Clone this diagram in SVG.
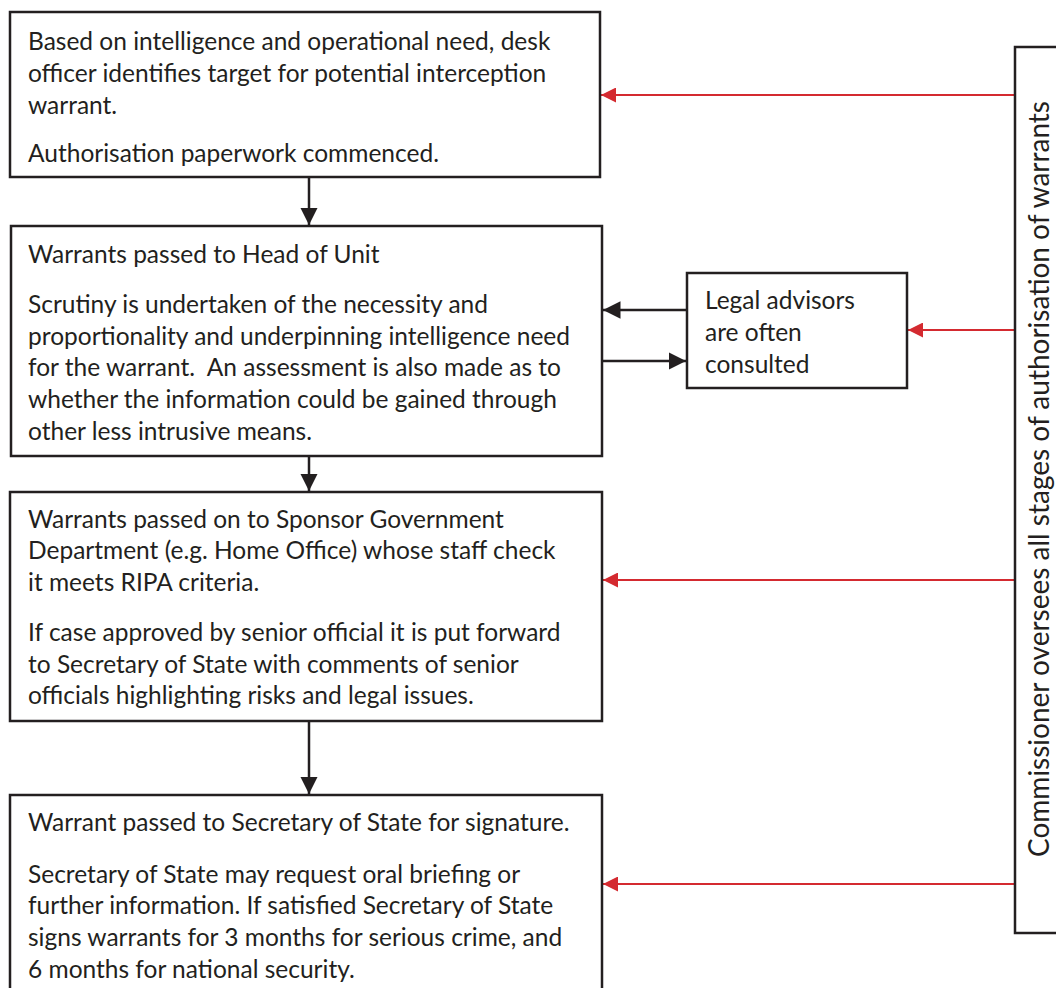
<svg xmlns="http://www.w3.org/2000/svg" width="1056" height="988" viewBox="0 0 1056 988">
<defs>
<style>
.box{fill:#fff;stroke:#231f20;stroke-width:2.5}
.t{font-family:Lato,"Open Sans",sans-serif;font-size:24.5px;fill:#231f20}
.v{font-family:Lato,"Open Sans",sans-serif;font-size:28px;fill:#231f20}
.blk{stroke:#231f20;stroke-width:2.5;fill:none}
.red{stroke:#d42a30;stroke-width:2;fill:none}
</style>
<marker id="ab" viewBox="0 0 10 10" refX="10" refY="5" markerWidth="7" markerHeight="7" markerUnits="strokeWidth" orient="auto"><path d="M0,0 L10,5 L0,10 z" fill="#231f20"/></marker>
<marker id="ar" viewBox="0 0 10 10" refX="10" refY="5" markerWidth="7.5" markerHeight="7.5" markerUnits="strokeWidth" orient="auto"><path d="M0,0 L10,5 L0,10 z" fill="#d42a30"/></marker>
</defs>
<rect width="1056" height="988" fill="#fff"/>
<g id="connectors">
<line class="blk" x1="309" y1="178" x2="309" y2="225" marker-end="url(#ab)"/>
<line class="blk" x1="309" y1="457" x2="309" y2="491" marker-end="url(#ab)"/>
<line class="blk" x1="309" y1="722" x2="309" y2="794" marker-end="url(#ab)"/>
<line class="blk" x1="687" y1="310" x2="603" y2="310" marker-end="url(#ab)"/>
<line class="blk" x1="603" y1="361" x2="686" y2="361" marker-end="url(#ab)"/>
<line class="red" x1="1015" y1="95" x2="601" y2="95" marker-end="url(#ar)"/>
<line class="red" x1="1015" y1="330" x2="908" y2="330" marker-end="url(#ar)"/>
<line class="red" x1="1015" y1="580" x2="603" y2="580" marker-end="url(#ar)"/>
<line class="red" x1="1015" y1="884" x2="603" y2="884" marker-end="url(#ar)"/>
</g>
<g id="node1">
<rect class="box" x="10" y="12" width="590" height="165"/>
<text class="t" x="28" y="50">Based on intelligence and operational need, desk</text>
<text class="t" x="28" y="82">officer identifies target for potential interception</text>
<text class="t" x="28" y="114">warrant.</text>
<text class="t" x="28" y="162">Authorisation paperwork commenced.</text>
</g>
<g id="node2">
<rect class="box" x="11" y="226" width="591" height="230"/>
<text class="t" x="28" y="263">Warrants passed to Head of Unit</text>
<text class="t" x="28" y="313">Scrutiny is undertaken of the necessity and</text>
<text class="t" x="28" y="345">proportionality and underpinning intelligence need</text>
<text class="t" x="28" y="376" xml:space="preserve">for the warrant.  An assessment is also made as to</text>
<text class="t" x="28" y="408">whether the information could be gained through</text>
<text class="t" x="28" y="440">other less intrusive means.</text>
</g>
<g id="node3">
<rect class="box" x="10" y="492" width="592" height="229"/>
<text class="t" x="28" y="528">Warrants passed on to Sponsor Government</text>
<text class="t" x="28" y="559">Department (e.g. Home Office) whose staff check</text>
<text class="t" x="28" y="591">it meets RIPA criteria.</text>
<text class="t" x="28" y="641">If case approved by senior official it is put forward</text>
<text class="t" x="28" y="673">to Secretary of State with comments of senior</text>
<text class="t" x="28" y="704">officials highlighting risks and legal issues.</text>
</g>
<g id="node4">
<rect class="box" x="10" y="795" width="592" height="200"/>
<text class="t" x="28" y="831">Warrant passed to Secretary of State for signature.</text>
<text class="t" x="28" y="883">Secretary of State may request oral briefing or</text>
<text class="t" x="28" y="914">further information. If satisfied Secretary of State</text>
<text class="t" x="28" y="946">signs warrants for 3 months for serious crime, and</text>
<text class="t" x="28" y="978">6 months for national security.</text>
</g>
<g id="legal">
<rect class="box" x="687" y="273" width="220" height="115"/>
<text class="t" x="705" y="309">Legal advisors</text>
<text class="t" x="705" y="341">are often</text>
<text class="t" x="705" y="373">consulted</text>
</g>
<g id="commissioner">
<rect class="box" x="1015" y="47" width="60" height="886"/>
<text class="v" transform="translate(1049,479) rotate(-90)" text-anchor="middle">Commissioner oversees all stages of authorisation of warrants</text>
</g>
</svg>
